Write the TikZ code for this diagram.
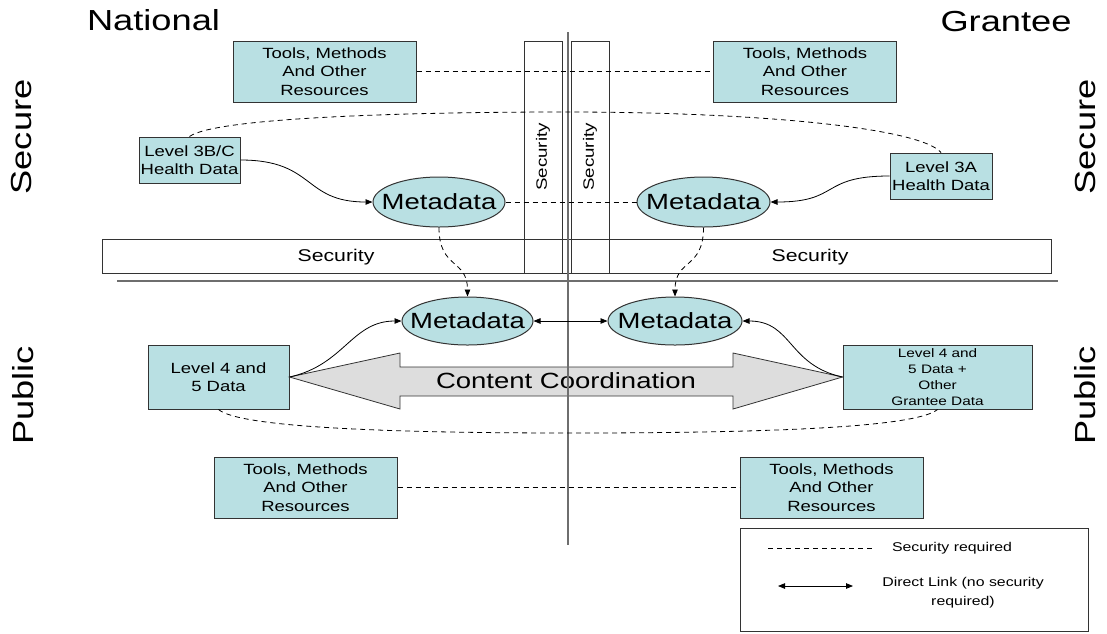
\documentclass[tikz,border=0pt]{standalone}
\usepackage{fontspec}
\setmainfont{Liberation Sans}[FakeStretch=1.25]
\usetikzlibrary{shapes.geometric,arrows.meta,calc}
\definecolor{boxfill}{HTML}{B9E0E3}
\definecolor{arrowfill}{HTML}{DDDDDD}
\definecolor{edge}{HTML}{333333}
\definecolor{divider}{HTML}{6E6E6E}
\newcommand\fsz[2]{\fontsize{#1}{#2}\selectfont}

\begin{document}
\begin{tikzpicture}[x=1pt,y=-1pt,
  databox/.style={draw=edge, line width=1pt, fill=boxfill, rectangle, inner sep=0pt,
                  align=center, font=\fsz{14.8}{18.5}},
  toolbox/.style={databox, minimum width=183pt, minimum height=61pt},
  meta/.style={draw=edge, line width=1pt, fill=boxfill, ellipse, inner sep=0pt,
               font=\fsz{22}{24}},
  secbox/.style={draw=edge, line width=1pt, rectangle, inner sep=0pt},
  side/.style={font=\fsz{29}{32}, inner sep=0pt},
  seclink/.style={draw=black, line width=0.8pt, dash pattern=on 5pt off 4pt},
  linkhead/.style={-{Triangle[length=7pt,width=5.5pt]}},
  bothheads/.style={{Triangle[length=7pt,width=5.5pt]}-{Triangle[length=7pt,width=5.5pt]}},
  solidlink/.style={draw=black, line width=0.8pt}
]
\useasboundingbox (0,0) rectangle (1107,633);

% column and row headings
\node[side, anchor=base] (national) at (153.5,30) {National};
\node[side, anchor=base] (grantee) at (1006,31) {Grantee};
\node[side, rotate=90] (secureL) at (21.5,137) {Secure};
\node[side, rotate=90] (secureR) at (1085,137) {Secure};
\node[side, rotate=90] (publicL) at (23.5,395.5) {Public};
\node[side, rotate=90] (publicR) at (1085.5,395.5) {Public};

% security barriers
\node[secbox, minimum width=949pt, minimum height=34pt] (hbar) at (576.5,256) {};
\node[font=\fsz{17}{20}] (hsecL) at (336,257) {Security};
\node[font=\fsz{17}{20}] (hsecR) at (810,257) {Security};
\node[secbox, rotate=90, minimum width=232pt, minimum height=38pt, font=\fsz{15}{18}]
  (vsecL) at (543,157) {Security};
\node[secbox, rotate=90, minimum width=232pt, minimum height=38pt, font=\fsz{15}{18}]
  (vsecR) at (590,157) {Security};

% secure zone
\node[toolbox] (toolsTL) at (324.5,71.5) {Tools, Methods\\And Other\\Resources};
\node[toolbox] (toolsTR) at (805,71.5) {Tools, Methods\\And Other\\Resources};
\node[databox, minimum width=101pt, minimum height=46pt] (l3bc) at (189.5,160)
  {Level 3B/C\\Health Data};
\node[databox, minimum width=102pt, minimum height=46pt] (l3a) at (941,176)
  {Level 3A\\Health Data};
\node[meta, minimum width=132pt, minimum height=50pt] (metaSL) at (439,202)
  {\makebox[0pt]{Metadata}};
\node[meta, minimum width=133pt, minimum height=50pt] (metaSR) at (703.5,202)
  {\makebox[0pt]{Metadata}};

% public zone
\node[meta, minimum width=131pt, minimum height=48pt] (metaPL) at (467.5,321)
  {\makebox[0pt]{Metadata}};
\node[meta, minimum width=134pt, minimum height=48pt] (metaPR) at (675,321)
  {\makebox[0pt]{Metadata}};
\node[databox, minimum width=141pt, minimum height=64pt] (l45) at (218.5,377)
  {Level 4 and\\5 Data};
\node[databox, minimum width=189pt, minimum height=64pt, font=\fsz{12.3}{16}] (r45)
  at (937.5,377) {Level 4 and\\5 Data +\\Other\\Grantee Data};
\node[toolbox] (toolsBL) at (305.5,487.5) {Tools, Methods\\And Other\\Resources};
\node[toolbox] (toolsBR) at (831.5,487.5) {Tools, Methods\\And Other\\Resources};

% content coordination double arrow
\draw[draw=edge, line width=0.8pt, fill=arrowfill]
  (l45.east) -- (400,353) -- (400,367) -- (733,367) -- (733,353) -- (r45.west)
  -- (733,409) -- (733,396) -- (400,396) -- (400,409) -- cycle;
\node[font=\fsz{22}{24}] (cc) at (566,381) {Content Coordination};

% dividers between national/grantee and secure/public
\coordinate (axTop) at (568,32);
\coordinate (axBot) at (568,545);
\coordinate (sepL) at (117,281);
\coordinate (sepR) at (1058,281);
\draw[divider, line width=1.6pt] (sepL) -- (sepR);
\draw[divider, line width=1.6pt] (axTop) -- (axBot);

% links that require security
\coordinate (archTop) at (565,112);
\coordinate (archBot) at (570,433);
\draw[seclink] (toolsTL.east) -- (toolsTR.west);
\draw[seclink] (metaSL.east) -- (metaSR.west);
\draw[seclink] (toolsBL.east) -- (toolsBR.west);
\draw[seclink] (l3bc.north) .. controls (215,118) and (400,112) .. (archTop)
  .. controls (760,112) and (920,128) .. (l3a.north);
\draw[seclink] (l45.south) .. controls (240,428) and (400,433) .. (archBot)
  .. controls (760,433) and (915,428) .. (r45.south);
\draw[seclink, linkhead] (metaSL.south) .. controls +(0,42) and +(0,-38) .. (metaPL.north);
\draw[seclink, linkhead] (metaSR.south) .. controls +(0,42) and +(0,-38) .. (metaPR.north);

% direct links
\draw[solidlink, linkhead] (l3bc.east) .. controls +(75,0) and +(-70,0) .. (metaSL.west);
\draw[solidlink, linkhead] (l3a.west) .. controls +(-70,0) and +(70,0) .. (metaSR.east);
\draw[solidlink, linkhead] (l45.east) .. controls +(55,-12) and +(-50,0) .. (metaPL.west);
\draw[solidlink, linkhead] (r45.west) .. controls +(-55,-12) and +(50,0) .. (metaPR.east);
\draw[solidlink, bothheads] (metaPL.east) -- (metaPR.west);

% legend
\node[draw=edge, line width=1pt, rectangle, inner sep=0pt,
      minimum width=348pt, minimum height=103pt] (legend) at (914,579.5) {};
\coordinate (lgDashA) at (768,548);
\coordinate (lgDashB) at (872,548);
\coordinate (lgLinkA) at (778,586);
\coordinate (lgLinkB) at (853,586);
\draw[seclink] (lgDashA) -- (lgDashB);
\draw[solidlink, bothheads] (lgLinkA) -- (lgLinkB);
\node[font=\fsz{12.7}{19}] (lgSec) at (952,548) {Security required};
\node[font=\fsz{12.7}{19}, align=center] (lgLink) at (963,593)
  {Direct Link (no security\\required)};
\end{tikzpicture}
\end{document}
